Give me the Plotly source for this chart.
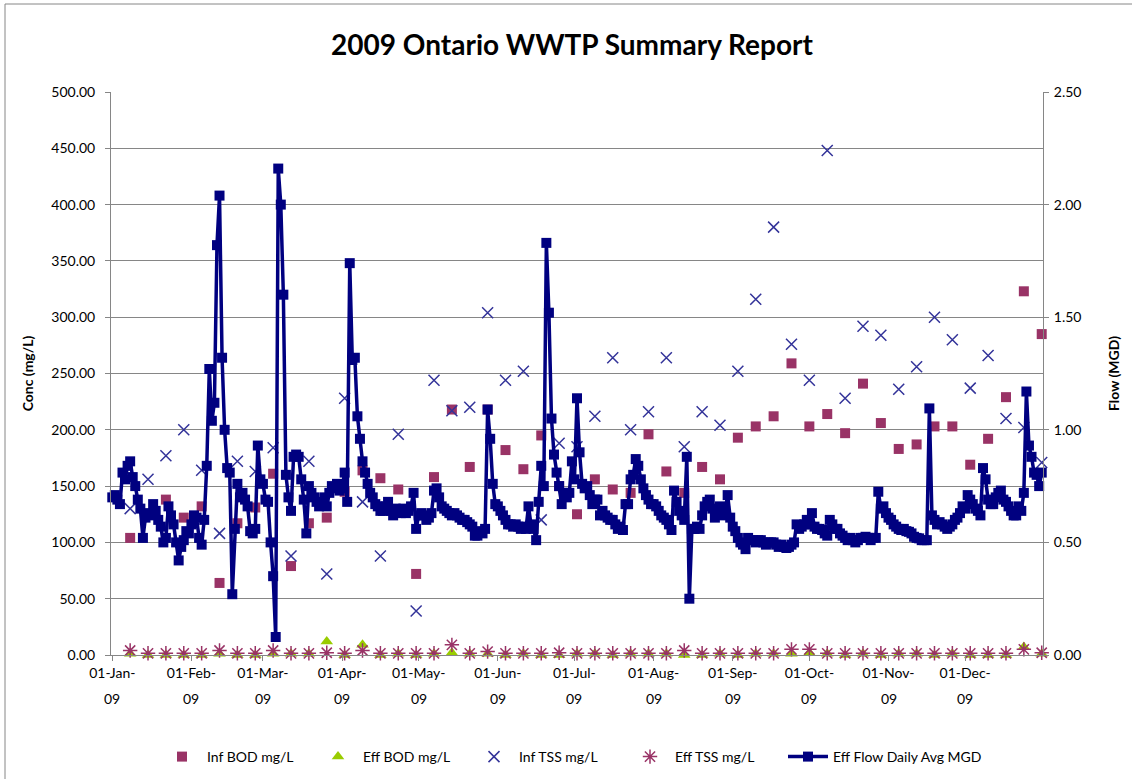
import plotly.graph_objects as go
from datetime import date, timedelta

# ---------------- data ----------------
# weekly samples (Thursdays, 08-Jan-09 .. 31-Dec-09)
sample_dates = [date(2009, 1, 8) + timedelta(days=7 * i) for i in range(52)]

inf_bod = [104, None, 138, 122, 132, 64, 117, 131, 161, 79,
           117, 122, 145, 164, 157, 147, 72, 158, 218, 167,
           218, 182, 165, 195, 150, 125, 156, 147, 144, 196,
           163, 144, 167, 156, 193, 203, 212, 259, 203, 214,
           197, 241, 206, 183, 187, 203, 203, 169, 192, 229,
           323, 285]

eff_bod = [1, 0, 0, 0, 0, 1, 0, 0, 1, 1,
           1, 12, 0, 9, 0, 1, 0, 1, 2, 1,
           1, 0, 1, 0, 0, 1, 1, 0, 1, 1,
           1, 0, 0, 1, 0, 1, 1, 1, 2, 1,
           0, 1, 0, 1, 1, 0, 1, 0, 0, 0,
           7, 1]

inf_tss = [130, 156, 177, 200, 164, 108, 172, 163, 184, 88,
           172, 72, 228, 136, 88, 196, 39, 244, 217, 220,
           304, 244, 252, 120, 188, 185, 212, 264, 200, 216,
           264, 185, 216, 204, 252, 316, 380, 276, 244, 448,
           228, 292, 284, 236, 256, 300, 280, 237, 266, 210,
           202, 171]

eff_tss = [4, 1.5, 1.5, 1.5, 1.5, 4, 1.5, 1.5, 4, 1.5,
           1.5, 2, 1.5, 4, 1.5, 1.5, 1.5, 1.5, 9, 1.5,
           3, 1.5, 1.5, 1.5, 2, 1.5, 1.5, 1.5, 1.5, 1.5,
           1.5, 4, 1.5, 1.5, 1.5, 1.5, 1.5, 5, 5, 1.5,
           1.5, 1.5, 1.5, 1.5, 1.5, 1.5, 1.5, 1.5, 1.5, 1.5,
           5, 2]

# daily effluent flow (MGD)
flow_jan = [0.70, 0.71, 0.69, 0.67, 0.81, 0.78, 0.84, 0.86, 0.79, 0.75,
            0.69, 0.65, 0.52, 0.61, 0.63, 0.62, 0.67, 0.64, 0.60, 0.57,
            0.50, 0.52, 0.66, 0.62, 0.58, 0.50, 0.42, 0.48, 0.51, 0.55, 0.54]
flow_feb = [0.58, 0.62, 0.61, 0.52, 0.49, 0.60, 0.84, 1.27, 1.04, 1.12,
            1.82, 2.04, 1.32, 1.00, 0.83, 0.81, 0.27, 0.56, 0.76, 0.70,
            0.72, 0.69, 0.66, 0.55, 0.54, 0.56, 0.93, 0.78]
flow_mar = [0.76, 0.69, 0.68, 0.50, 0.35, 0.08, 2.16, 2.00, 1.60, 0.80,
            0.70, 0.64, 0.88, 0.89, 0.88, 0.78, 0.69, 0.54, 0.75, 0.72,
            0.70, 0.68, 0.66, 0.67, 0.70, 0.66, 0.72, 0.75, 0.74, 0.76, 0.73]
flow_apr = [0.74, 0.81, 0.68, 1.74, 1.31, 1.32, 1.06, 0.96, 0.86, 0.81,
            0.76, 0.72, 0.70, 0.67, 0.66, 0.64, 0.64, 0.66, 0.68, 0.64,
            0.62, 0.65, 0.64, 0.63, 0.65, 0.63, 0.64, 0.66, 0.72, 0.56]
flow_may = [0.62, 0.63, 0.62, 0.60, 0.61, 0.63, 0.73, 0.74, 0.70, 0.66,
            0.65, 0.64, 0.63, 0.62, 0.63, 0.62, 0.61, 0.60, 0.60, 0.59,
            0.58, 0.57, 0.53, 0.53, 0.55, 0.54, 0.56, 1.09, 0.96, 0.76, 0.67]
flow_jun = [0.66, 0.64, 0.62, 0.60, 0.58, 0.58, 0.57, 0.58, 0.57, 0.56,
            0.57, 0.56, 0.66, 0.58, 0.56, 0.51, 0.68, 0.84, 0.75, 1.83,
            1.52, 1.05, 0.89, 0.81, 0.75, 0.67, 0.72, 0.70, 0.72, 0.86]
flow_jul = [0.78, 1.14, 0.90, 0.76, 0.74, 0.75, 0.71, 0.67, 0.69, 0.69,
            0.62, 0.64, 0.62, 0.61, 0.60, 0.60, 0.58, 0.56, 0.57, 0.555,
            0.67, 0.67, 0.78, 0.80, 0.87, 0.84, 0.78, 0.74, 0.71, 0.69, 0.67]
flow_aug = [0.67, 0.66, 0.64, 0.62, 0.61, 0.60, 0.58, 0.555, 0.73, 0.68,
            0.64, 0.62, 0.60, 0.88, 0.25, 0.56, 0.56, 0.57, 0.56, 0.62,
            0.66, 0.68, 0.69, 0.65, 0.61, 0.64, 0.66, 0.62, 0.64, 0.71, 0.61]
flow_sep = [0.57, 0.55, 0.52, 0.50, 0.49, 0.47, 0.52, 0.51, 0.51, 0.50,
            0.51, 0.51, 0.50, 0.49, 0.50, 0.50, 0.50, 0.49, 0.48, 0.49,
            0.48, 0.475, 0.48, 0.49, 0.50, 0.58, 0.56, 0.57, 0.58, 0.60]
flow_oct = [0.58, 0.63, 0.57, 0.56, 0.56, 0.555, 0.54, 0.53, 0.60, 0.58,
            0.56, 0.56, 0.54, 0.53, 0.52, 0.51, 0.52, 0.51, 0.50, 0.51,
            0.52, 0.52, 0.525, 0.52, 0.51, 0.52, 0.52, 0.725, 0.65, 0.66, 0.63]
flow_nov = [0.61, 0.60, 0.58, 0.57, 0.56, 0.555, 0.56, 0.55, 0.547, 0.54,
            0.525, 0.52, 0.518, 0.51, 0.51, 0.51, 1.095, 0.62, 0.60, 0.58,
            0.59, 0.58, 0.57, 0.56, 0.57, 0.58, 0.60, 0.61, 0.63, 0.66]
flow_dec = [0.65, 0.71, 0.69, 0.67, 0.65, 0.64, 0.62, 0.83, 0.78, 0.69,
            0.67, 0.67, 0.70, 0.72, 0.73, 0.69, 0.68, 0.66, 0.64, 0.62,
            0.62, 0.66, 0.64, 0.72, 1.17, 0.93, 0.88, 0.81, 0.80, 0.75, 0.81]

flow = (flow_jan + flow_feb + flow_mar + flow_apr + flow_may + flow_jun +
        flow_jul + flow_aug + flow_sep + flow_oct + flow_nov + flow_dec)
flow_dates = [date(2009, 1, 1) + timedelta(days=i) for i in range(len(flow))]

month_ticks = ["2009-%02d-01" % m for m in range(1, 13)]
month_labels = ["01-Jan-", "01-Feb-", "01-Mar-", "01-Apr-", "01-May-", "01-Jun-",
                "01-Jul-", "01-Aug-", "01-Sep-", "01-Oct-", "01-Nov-", "01-Dec-"]
year_label = "09"

# ---------------- figure ----------------
MAROON = "#993366"
GREEN = "#99CC00"
BLUE = "#333399"
NAVY = "#000080"
GRID = "#868686"

fig = go.Figure()
fig.add_trace(go.Scatter(x=sample_dates, y=inf_bod, mode="markers", name="Inf BOD mg/L",
                         marker=dict(symbol="square", size=10, color=MAROON), cliponaxis=False))
fig.add_trace(go.Scatter(x=sample_dates, y=eff_bod, mode="markers", name="Eff BOD mg/L",
                         marker=dict(symbol="triangle-up", size=11, color=GREEN), cliponaxis=False))
fig.add_trace(go.Scatter(x=sample_dates, y=inf_tss, mode="markers", name="Inf TSS mg/L",
                         marker=dict(symbol="x-thin-open", size=11, color=BLUE,
                                     line=dict(width=1.5, color=BLUE)), cliponaxis=False))
fig.add_trace(go.Scatter(x=sample_dates, y=eff_tss, mode="markers", name="Eff TSS mg/L",
                         marker=dict(symbol="asterisk-open", size=12, color=MAROON,
                                     line=dict(width=1.5, color=MAROON)), cliponaxis=False))
fig.add_trace(go.Scatter(x=flow_dates, y=flow, mode="lines+markers", name="Eff Flow Daily Avg MGD",
                         yaxis="y2", legend="legend2", line=dict(color=NAVY, width=3.5),
                         marker=dict(symbol="square", size=10, color=NAVY), cliponaxis=False))

FONT = "Lato, Carlito, Calibri, 'Open Sans', sans-serif"
PL, PR, PT, PB = 111, 1043, 92, 655
W, H = 1132, 779
pw, ph = PR - PL, PB - PT

annotations = [dict(x=t, y=(PB - 698) / ph, xref="x", yref="paper", text=year_label,
                    showarrow=False, font=dict(size=14, family=FONT, color="black"),
                    xanchor="center", yanchor="middle")
               for t in month_ticks]

fig.update_layout(
    width=W, height=H,
    margin=dict(l=PL, r=W - PR, t=PT, b=H - PB, autoexpand=False),
    paper_bgcolor="white", plot_bgcolor="white",
    font=dict(family=FONT, size=14, color="black"),
    title=dict(text="<b>2009 Ontario WWTP Summary Report</b>", x=572 / W, xanchor="center",
               y=1 - 45 / H, yanchor="middle", font=dict(size=28, family=FONT, color="black")),
    xaxis=dict(type="date", range=["2008-12-31 12:00", "2009-12-31 12:00"],
               tickvals=month_ticks, ticktext=month_labels, tickangle=0,
               showgrid=False, showline=True, linecolor=GRID, linewidth=1,
               ticks="outside", ticklen=5, tickcolor=GRID, tickfont=dict(size=14),
               zeroline=False, automargin=False),
    yaxis=dict(range=[0, 500], dtick=50, tickformat=".2f", showgrid=True, gridcolor=GRID,
               gridwidth=1, showline=True, linecolor=GRID, ticks="outside", ticklen=5,
               tickcolor=GRID, zeroline=False, tickfont=dict(size=14), ticklabelstandoff=7,
               automargin=False,
               title=dict(text="<b>Conc (mg/L)</b>", font=dict(size=14), standoff=14)),
    yaxis2=dict(range=[0, 2.5], dtick=0.5, tickformat=".2f", overlaying="y", side="right",
                showgrid=False, showline=True, linecolor=GRID, ticks="outside", ticklen=5,
                tickcolor=GRID, zeroline=False, tickfont=dict(size=14), ticklabelstandoff=2,
                automargin=False,
                title=dict(text="<b>Flow (MGD)</b>", font=dict(size=14), standoff=28)),
    legend=dict(orientation="h", x=(157 - PL) / pw, xanchor="left",
                y=(PB - 757) / ph, yanchor="middle", font=dict(size=14),
                itemwidth=40, entrywidth=101, bgcolor="rgba(0,0,0,0)"),
    legend2=dict(orientation="h", x=(783 - PL) / pw, xanchor="left",
                 y=(PB - 757) / ph, yanchor="middle", font=dict(size=14),
                 itemwidth=40, bgcolor="rgba(0,0,0,0)"),
    showlegend=True,
    annotations=annotations,
    shapes=[dict(type="rect", xref="paper", yref="paper",
                 x0=(5 - PL) / pw, x1=(W + 10 - PL) / pw,
                 y0=(PB - (H + 10)) / ph, y1=(PB - 4) / ph,
                 line=dict(color=GRID, width=1), fillcolor="rgba(0,0,0,0)", layer="below")],
)

fig.write_html("out.html", config={"displayModeBar": False},
               post_script="document.body.style.margin='0px';")
